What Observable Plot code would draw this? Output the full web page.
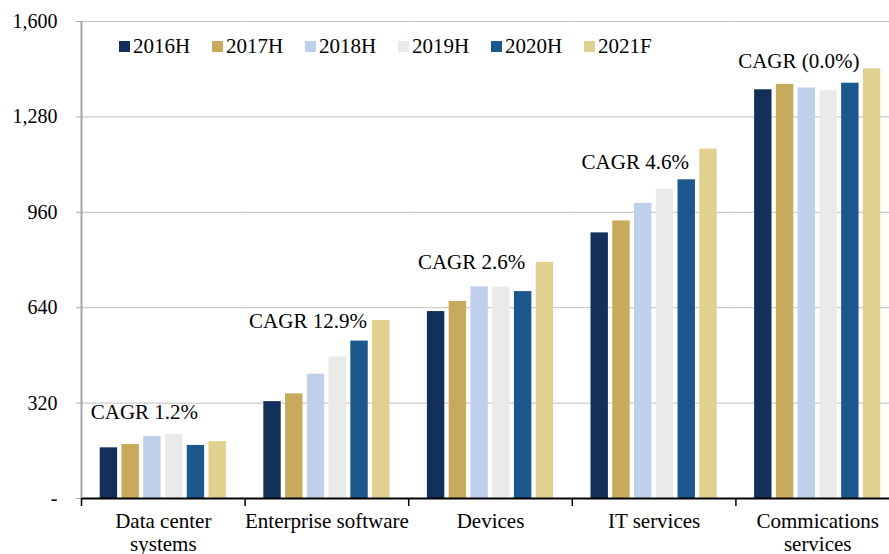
<!DOCTYPE html>
<html><head><meta charset="utf-8">
<script src="https://cdn.jsdelivr.net/npm/d3@7"></script>
<script src="https://cdn.jsdelivr.net/npm/@observablehq/plot@0.6"></script>
<style>
body{margin:0;background:#fff;}
#wrap{position:relative;width:889px;height:554px;overflow:hidden;font-family:"Liberation Serif","Times New Roman",serif;background:#fff;}
#legend{position:absolute;left:119px;top:34px;display:flex;font-size:21px;color:#000;}
.item{display:flex;align-items:center;width:93px;}
.sw{width:11px;height:11px;margin-right:3px;}
</style></head><body><div id="wrap"><div id="legend"></div></div>
<script>
const categories = ["Data center systems","Enterprise software","Devices","IT services","Commications services"];
const categoryLabels = ["Data center\nsystems","Enterprise software","Devices","IT services","Commications\nservices"];
const years = ["2016H","2017H","2018H","2019H","2020H","2021F"];
const colors = ["#12305A","#C8AA5C","#BFD0EA","#EAEAEA","#1C578D","#E0D191"];
const dataCenter = [170,181,208,215,178,191];
const enterprise = [325,351,417,475,528,597];
const devices = [627,661,710,709,694,792];
const itServices = [891,931,990,1037,1069,1172];
const communications = [1371,1389,1377,1368,1393,1441];
const cagrLabels = ["CAGR 1.2%","CAGR 12.9%","CAGR 2.6%","CAGR 4.6%","CAGR (0.0%)"];
const cagrLabelY = [288,594,792,1127,1466];
const yTicks = [0,320,640,960,1280,1600];

const series = [dataCenter, enterprise, devices, itServices, communications];
const rows = [];
categories.forEach((c, i) => years.forEach((y, j) => rows.push({category: c, year: y, value: series[i][j]})));
const cagr = categories.map((c, i) => ({category: c, label: cagrLabels[i], y: cagrLabelY[i]}));

const W = 889, H = 554, mL = 81, mR = -10, mT = 21, mB = 56;
const bw = (W - mL - mR) / categories.length;
const font = '"Liberation Serif","Times New Roman",serif';

const chart = Plot.plot({
  width: W, height: H,
  marginLeft: mL, marginRight: mR, marginTop: mT, marginBottom: mB,
  style: {fontFamily: font, fontSize: "21px", color: "#000", background: "#fff"},
  fx: {domain: categories, padding: 0, label: null, axis: null, round: false},
  x: {domain: years, paddingInner: 0.2, paddingOuter: 0.86, axis: null, round: false},
  y: {domain: [0, 1600], label: null, axis: null},
  color: {domain: years, range: colors},
  marks: [
    Plot.ruleY(yTicks.slice(1), {stroke: "#c0c0c0", strokeWidth: 1}),
    Plot.barY(rows, {fx: "category", x: "year", y: "value", fill: "year"}),
    Plot.ruleY([0], {stroke: "#000", strokeWidth: 2}),
    Plot.ruleX([categories[0]], {fx: d => d, x: null, dx: -bw / 2, stroke: "#a6a6a6", strokeWidth: 2}),
    Plot.axisY({ticks: yTicks, tickFormat: d => d === 0 ? "-" : d3.format(",")(d), tickSize: 5, tickPadding: 19, stroke: "#a6a6a6", fill: "#000", fontSize: 20, label: null}),
    Plot.axisFx({anchor: "bottom", tickSize: 8, dx: -bw / 2, tickFormat: () => "", stroke: "#000", strokeWidth: 1.5, label: null}),
    Plot.axisFx({anchor: "bottom", tickSize: 0, tickPadding: 13, tickFormat: d => categoryLabels[categories.indexOf(d)], lineHeight: 1.1, fill: "#000", fontSize: 21, label: null}),
    Plot.text(cagr, {fx: "category", x: () => "2018H", dx: -8, y: "y", text: "label", fill: "#000", fontSize: 21})
  ]
});
const wrap = document.getElementById("wrap");
wrap.appendChild(chart);
const legend = document.getElementById("legend");
years.forEach((y, i) => {
  const it = document.createElement("div"); it.className = "item";
  const sw = document.createElement("div"); sw.className = "sw"; sw.style.background = colors[i];
  const t = document.createElement("span"); t.textContent = y;
  it.appendChild(sw); it.appendChild(t); legend.appendChild(it);
});
</script></body></html>
